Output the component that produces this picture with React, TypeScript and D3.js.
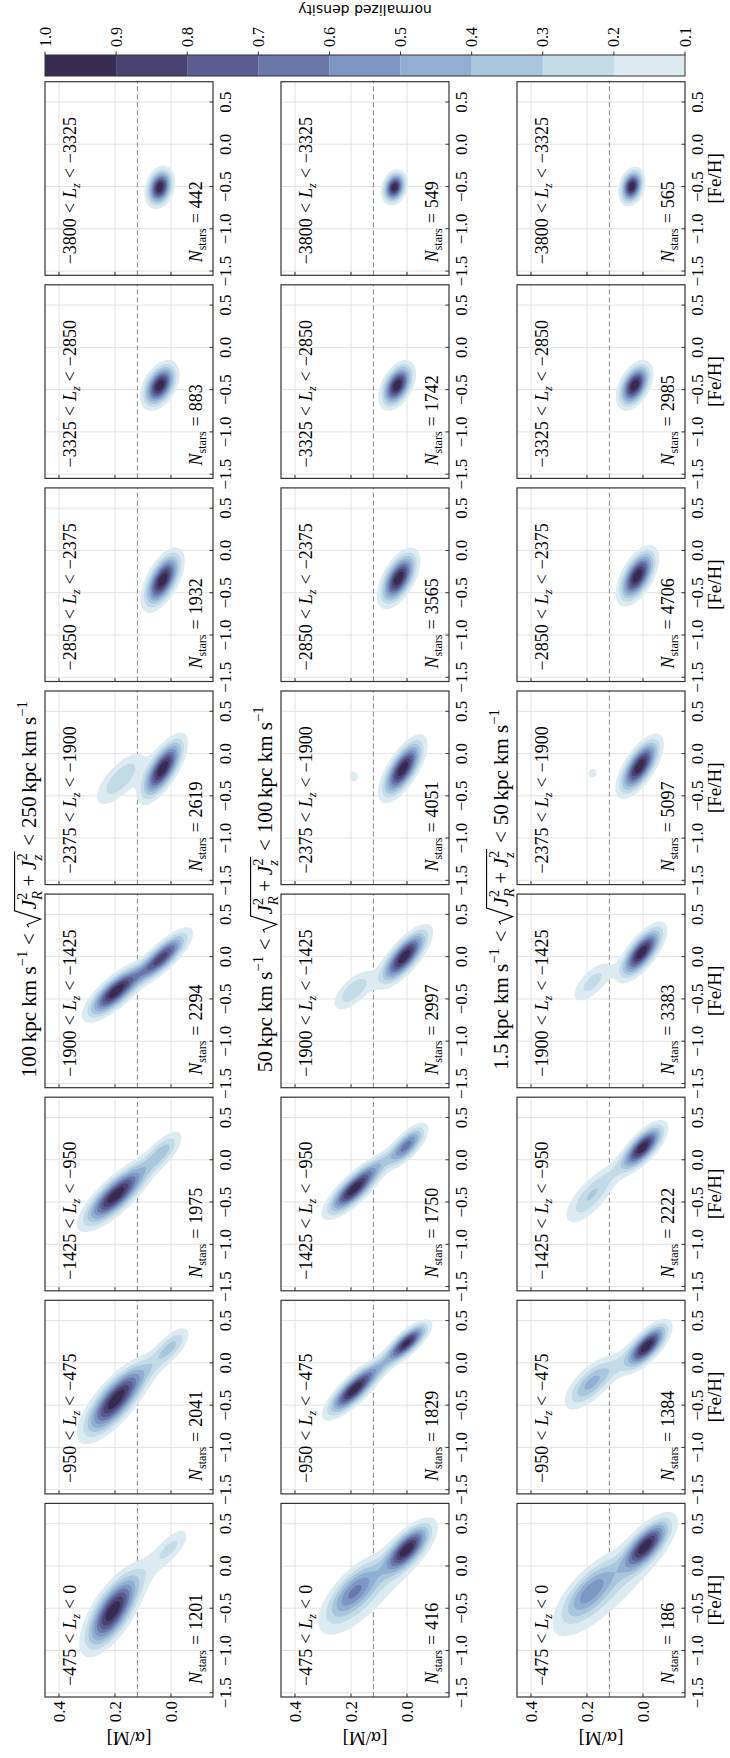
import React, { useEffect, useRef } from "react";
import * as d3 from "d3";

const W = 730;
const H = 1758;

// ---- data ----
const LZ_LOW = ["−475", "−950", "−1425", "−1900", "−2375", "−2850", "−3325", "−3800"];
const LZ_HIGH = ["0", "−475", "−950", "−1425", "−1900", "−2375", "−2850", "−3325"];
const ACTION_LOW = ["100", "50", "1.5"];
const ACTION_HIGH = ["250", "100", "50"];
const N_STARS_HIGH = [1201, 2041, 1975, 2294, 2619, 1932, 883, 442];
const N_STARS_MID = [416, 1829, 1750, 2997, 4051, 3565, 1742, 549];
const N_STARS_LOW = [186, 1384, 2222, 3383, 5097, 4706, 2985, 565];
const FEH_TICKS = [-1.5, -1.0, -0.5, 0.0, 0.5];
const ALPHA_TICKS = [0.0, 0.2, 0.4];
const LEVELS = [0.1, 0.2, 0.3, 0.4, 0.5, 0.6, 0.7, 0.8, 0.9, 1.0];
const LEVEL_COLORS = ["#dcebf1", "#c3dbe7", "#a8c6dc", "#91afd2", "#7e96c4", "#6a77ab", "#5b5c90", "#4a4271", "#382b52"];
const ALPHA_SPLIT = 0.12;

// density components per panel: [mean FeH, mean alpha, sd FeH, sd alpha, ridge slope, weight]
const KDE_HIGH = [
  [[-0.55, 0.21, 0.25, 0.04, -0.15, 1.0], [0.22, 0.0, 0.15, 0.03, -0.2, 0.2], [-0.15, 0.12, 0.3, 0.05, -0.25, 0.12]],
  [[-0.45, 0.2, 0.24, 0.042, -0.2, 1.0], [0.2, 0.0, 0.14, 0.03, -0.2, 0.3], [-0.1, 0.09, 0.2, 0.04, -0.3, 0.15]],
  [[-0.43, 0.2, 0.2, 0.04, -0.25, 1.0], [0.1, 0.03, 0.15, 0.03, -0.2, 0.3], [-0.1, 0.1, 0.2, 0.04, -0.3, 0.12]],
  [[-0.42, 0.2, 0.17, 0.036, -0.25, 1.0], [0.0, 0.03, 0.17, 0.032, -0.25, 0.85], [-0.2, 0.11, 0.13, 0.03, -0.4, 0.12]],
  [[-0.18, 0.03, 0.2, 0.03, -0.15, 1.0], [-0.3, 0.18, 0.2, 0.04, -0.2, 0.3]],
  [[-0.35, 0.03, 0.18, 0.03, -0.12, 1.0]],
  [[-0.45, 0.04, 0.14, 0.03, -0.1, 1.0]],
  [[-0.51, 0.04, 0.12, 0.025, -0.05, 1.0]],
];
const KDE_MID = [
  [[0.2, 0.0, 0.17, 0.035, -0.2, 1.0], [-0.3, 0.19, 0.22, 0.045, -0.2, 0.6], [-0.3, 0.12, 0.45, 0.07, -0.25, 0.15]],
  [[-0.32, 0.19, 0.17, 0.032, -0.25, 1.0], [0.24, 0.0, 0.13, 0.028, -0.25, 0.95], [-0.03, 0.09, 0.13, 0.03, -0.3, 0.2]],
  [[-0.35, 0.19, 0.17, 0.033, -0.25, 1.0], [0.17, 0.0, 0.14, 0.028, -0.2, 0.65], [-0.05, 0.1, 0.13, 0.03, -0.3, 0.2]],
  [[0.0, 0.01, 0.18, 0.032, -0.2, 1.0], [-0.4, 0.19, 0.15, 0.035, -0.2, 0.3]],
  [[-0.18, 0.015, 0.19, 0.03, -0.15, 1.0], [-0.27, 0.19, 0.08, 0.02, 0.0, 0.13]],
  [[-0.33, 0.03, 0.17, 0.03, -0.12, 1.0]],
  [[-0.45, 0.035, 0.14, 0.028, -0.1, 1.0]],
  [[-0.51, 0.045, 0.1, 0.022, -0.05, 1.0]],
];
const KDE_LOW = [
  [[0.24, -0.01, 0.18, 0.035, -0.2, 1.0], [-0.3, 0.19, 0.22, 0.045, -0.2, 0.5], [-0.25, 0.12, 0.45, 0.08, -0.25, 0.2]],
  [[0.2, -0.015, 0.15, 0.03, -0.2, 1.0], [-0.25, 0.19, 0.18, 0.04, -0.2, 0.42], [0.0, 0.08, 0.2, 0.04, -0.3, 0.15]],
  [[0.15, 0.0, 0.15, 0.03, -0.2, 1.0], [-0.45, 0.19, 0.2, 0.04, -0.2, 0.3], [-0.1, 0.09, 0.2, 0.035, -0.3, 0.12]],
  [[0.05, 0.005, 0.17, 0.03, -0.18, 1.0], [-0.3, 0.18, 0.16, 0.035, -0.2, 0.25]],
  [[-0.15, 0.012, 0.18, 0.03, -0.15, 1.0], [-0.23, 0.18, 0.07, 0.02, 0.0, 0.13]],
  [[-0.3, 0.02, 0.17, 0.03, -0.12, 1.0]],
  [[-0.45, 0.03, 0.14, 0.028, -0.1, 1.0]],
  [[-0.5, 0.04, 0.11, 0.022, -0.05, 1.0]],
];

// ---- layout (landscape coordinates; the whole figure is turned 90° ccw) ----
const FEH_DOMAIN = [-1.55, 0.74];
const ALPHA_DOMAIN = [-0.15, 0.45];
const COL_X0 = 61;
const COL_STEP = 203.1;
const PW = 193.6;
const ROW_Y0 = 45;
const ROW_STEP = 236;
const PH = 168;
const SERIF = "Liberation Serif, DejaVu Serif, serif";

export default function App() {
  const ref = useRef(null);

  useEffect(() => {
    document.body.style.margin = "0";
    const svg = d3.select(ref.current);
    svg.selectAll("*").remove();
    const defs = svg.append("defs");
    const root = svg
      .append("g")
      .attr("transform", `translate(0,${H}) rotate(-90)`)
      .style("font-family", SERIF)
      .attr("fill", "#000");

    const rows = [
      { n: N_STARS_HIGH, k: KDE_HIGH },
      { n: N_STARS_MID, k: KDE_MID },
      { n: N_STARS_LOW, k: KDE_LOW },
    ];
    const nx = 150;
    const ny = 110;
    const fmt = d3.format(".1f");

    rows.forEach((row, r) => {
      const Y0 = ROW_Y0 + r * ROW_STEP;
      row.k.forEach((comps, c) => {
        const X0 = COL_X0 + c * COL_STEP;
        const x = d3.scaleLinear().domain(FEH_DOMAIN).range([X0, X0 + PW]);
        const y = d3.scaleLinear().domain(ALPHA_DOMAIN).range([Y0 + PH, Y0]);
        const g = root.append("g");
        const id = `clip-${r}-${c}`;
        defs.append("clipPath").attr("id", id).append("rect")
          .attr("x", X0).attr("y", Y0).attr("width", PW).attr("height", PH);

        g.append("rect").attr("x", X0).attr("y", Y0).attr("width", PW).attr("height", PH).attr("fill", "#fff");
        FEH_TICKS.forEach((t) => {
          g.append("line").attr("x1", x(t)).attr("x2", x(t)).attr("y1", Y0).attr("y2", Y0 + PH)
            .attr("stroke", "#e2e2e2").attr("stroke-width", 1);
        });
        ALPHA_TICKS.forEach((t) => {
          g.append("line").attr("x1", X0).attr("x2", X0 + PW).attr("y1", y(t)).attr("y2", y(t))
            .attr("stroke", "#e2e2e2").attr("stroke-width", 1);
        });
        g.append("line").attr("x1", X0).attr("x2", X0 + PW).attr("y1", y(ALPHA_SPLIT)).attr("y2", y(ALPHA_SPLIT))
          .attr("stroke", "#888").attr("stroke-width", 1).attr("stroke-dasharray", "5,3");

        const vals = new Array(nx * ny);
        let vmax = 0;
        for (let j = 0; j < ny; j++) {
          const a = ALPHA_DOMAIN[0] + ((j + 0.5) / ny) * (ALPHA_DOMAIN[1] - ALPHA_DOMAIN[0]);
          for (let i = 0; i < nx; i++) {
            const f = FEH_DOMAIN[0] + ((i + 0.5) / nx) * (FEH_DOMAIN[1] - FEH_DOMAIN[0]);
            let s = 0;
            for (const [mf, ma, sf, sa, sl, w] of comps) {
              const u = (f - mf) / sf;
              const v = (a - ma - sl * (f - mf)) / sa;
              s += w * Math.exp(-0.5 * (u * u + v * v));
            }
            vals[j * nx + i] = s;
            if (s > vmax) vmax = s;
          }
        }
        for (let k = 0; k < vals.length; k++) vals[k] /= vmax;
        const contours = d3.contours().size([nx, ny]).thresholds(LEVELS.slice(0, 9))(vals);
        const proj = d3.geoTransform({
          point(px, py) {
            this.stream.point(X0 + (px / nx) * PW, Y0 + PH - (py / ny) * PH);
          },
        });
        const path = d3.geoPath(proj);
        const cg = g.append("g").attr("clip-path", `url(#${id})`);
        contours.forEach((ct, i) => {
          cg.append("path").attr("d", path(ct)).attr("fill", LEVEL_COLORS[i]).attr("stroke", "none");
        });

        FEH_TICKS.forEach((t) => {
          g.append("line").attr("x1", x(t)).attr("x2", x(t)).attr("y1", Y0 + PH).attr("y2", Y0 + PH - 3.5)
            .attr("stroke", "#333").attr("stroke-width", 1);
        });
        ALPHA_TICKS.forEach((t) => {
          g.append("line").attr("x1", X0).attr("x2", X0 + 3.5).attr("y1", y(t)).attr("y2", y(t))
            .attr("stroke", "#333").attr("stroke-width", 1);
        });
        g.append("rect").attr("x", X0).attr("y", Y0).attr("width", PW).attr("height", PH)
          .attr("fill", "none").attr("stroke", "#333").attr("stroke-width", 1.2);

        FEH_TICKS.forEach((t) => {
          g.append("text").attr("x", x(t)).attr("y", Y0 + PH + 18).attr("text-anchor", "middle")
            .attr("font-size", 17).text(fmt(t));
        });
        if (c === 0) {
          ALPHA_TICKS.forEach((t) => {
            g.append("text").attr("x", X0 - 4).attr("y", y(t)).attr("dy", "0.35em").attr("text-anchor", "end")
              .attr("font-size", 17).text(fmt(t));
          });
          g.append("text").attr("transform", `translate(${X0 - 35},${Y0 + PH / 2}) rotate(-90)`)
            .attr("text-anchor", "middle").attr("font-size", 19).text("[α/M]");
        }
        if (r === 2) {
          g.append("text").attr("x", X0 + PW / 2).attr("y", Y0 + PH + 36).attr("text-anchor", "middle")
            .attr("font-size", 19).text("[Fe/H]");
        }

        const lz = g.append("text").attr("x", X0 + 11).attr("y", Y0 + 31).attr("font-size", 18);
        lz.append("tspan").text(LZ_LOW[c]);
        lz.append("tspan").attr("dx", 5).text("<");
        lz.append("tspan").attr("dx", 5).attr("font-style", "italic").text("L");
        lz.append("tspan").attr("font-style", "italic").attr("font-size", 12).attr("dy", 4).text("z");
        lz.append("tspan").attr("dx", 5).attr("dy", -4).text("<");
        lz.append("tspan").attr("dx", 5).text(LZ_HIGH[c]);

        const ns = g.append("text").attr("x", X0 + 13).attr("y", Y0 + PH - 11).attr("font-size", 18);
        ns.append("tspan").attr("font-style", "italic").text("N");
        ns.append("tspan").attr("font-size", 12).attr("dy", 4).text("stars");
        ns.append("tspan").attr("dx", 5).attr("dy", -4).text("=");
        ns.append("tspan").attr("dx", 5).text(String(row.n[c]));
      });

      drawTitle(root, COL_X0 + (7 * COL_STEP + PW) / 2, Y0 - 9, ACTION_LOW[r], ACTION_HIGH[r], 21);
    });

    const cbX = 1682;
    const cbW = 21;
    const cb = d3.scaleLinear().domain([0.1, 1.0]).range([ROW_Y0 + 2 * ROW_STEP + PH, ROW_Y0]);
    const cbg = root.append("g");
    LEVEL_COLORS.forEach((col, i) => {
      cbg.append("rect").attr("x", cbX).attr("width", cbW)
        .attr("y", cb(LEVELS[i + 1])).attr("height", cb(LEVELS[i]) - cb(LEVELS[i + 1]))
        .attr("fill", col);
    });
    cbg.append("rect").attr("x", cbX).attr("width", cbW).attr("y", cb(1.0)).attr("height", cb(0.1) - cb(1.0))
      .attr("fill", "none").attr("stroke", "#333").attr("stroke-width", 1);
    LEVELS.forEach((v) => {
      cbg.append("line").attr("x1", cbX + cbW).attr("x2", cbX + cbW + 3.5).attr("y1", cb(v)).attr("y2", cb(v))
        .attr("stroke", "#333");
      cbg.append("text").attr("x", cbX + cbW + 8).attr("y", cb(v)).attr("dy", "0.35em").attr("font-size", 16)
        .text(fmt(v));
    });
    cbg.append("text").attr("transform", `translate(1753,${cb(0.55)}) rotate(-90)`)
      .attr("text-anchor", "middle").attr("font-size", 14)
      .style("font-family", "DejaVu Sans, sans-serif").text("normalized density");
  }, []);

  return (
    <svg ref={ref} width={W} height={H}
      style={{ position: "absolute", left: 0, top: 0, display: "block", background: "#fff" }} />
  );
}

function drawTitle(root, cx, base, lo, hi, fs) {
  const g = root.append("g");
  let x = 0;
  const small = fs * 0.7;
  const put = (str, opt = {}) => {
    const el = g.append("text").attr("x", x).attr("y", base + (opt.dy || 0))
      .attr("font-size", opt.size || fs).text(str);
    if (opt.italic) el.attr("font-style", "italic");
    return el.node().getComputedTextLength();
  };
  const unit = (num) => {
    x += put(num);
    x += fs * 0.18;
    x += put("kpc km s");
    x += put("−1", { size: small, dy: -fs * 0.42 });
  };
  const rel = () => {
    x += fs * 0.28;
    x += put("<");
    x += fs * 0.28;
  };
  const jTerm = (sub) => {
    x += put("J", { italic: true });
    const x0 = x;
    const w1 = put("2", { size: small, dy: -fs * 0.45 });
    x = x0;
    const w2 = put(sub, { size: small, dy: fs * 0.28, italic: true });
    x = x0 + Math.max(w1, w2);
  };
  unit(lo);
  rel();
  const rx = x;
  x += fs * 0.8;
  const rStart = x;
  x += fs * 0.05;
  jTerm("R");
  x += fs * 0.22;
  x += put("+");
  x += fs * 0.22;
  jTerm("z");
  x += fs * 0.08;
  const rEnd = x;
  const top = base - fs * 1.02;
  g.append("path")
    .attr("d", `M${rx},${base - fs * 0.35} L${rx + fs * 0.13},${base - fs * 0.42} L${rx + fs * 0.38},${base + fs * 0.22} L${rStart - fs * 0.02},${top} L${rEnd},${top}`)
    .attr("fill", "none").attr("stroke", "#000").attr("stroke-width", 1.1);
  rel();
  unit(hi);
  g.attr("transform", `translate(${cx - x / 2},0)`);
}
